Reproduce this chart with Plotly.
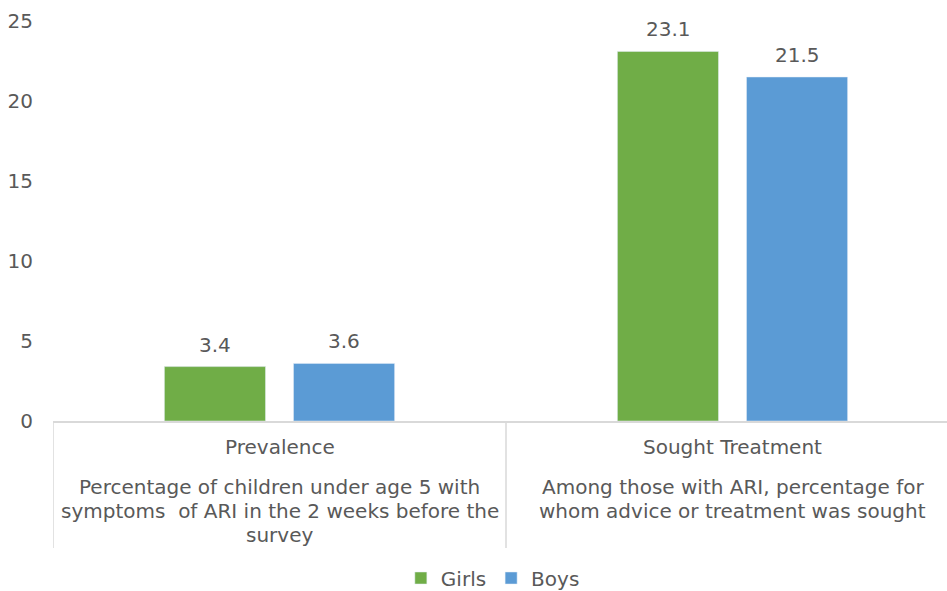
import plotly.graph_objects as go

categories = ["Prevalence", "Sought Treatment"]
descriptions = [
    ["Percentage of children under age 5 with",
     "symptoms  of ARI in the 2 weeks before the",
     "survey"],
    ["Among those with ARI, percentage for",
     "whom advice or treatment was sought"],
]
series_names = ["Girls", "Boys"]
girls = [3.4, 23.1]
boys = [3.6, 21.5]
y_ticks = [0, 5, 10, 15, 20, 25]

FONT = "DejaVu Sans"
FS = 20
TXT = "#595959"
GREEN = "#70AD47"
BLUE = "#5B9BD5"
GRID = "#D9D9D9"

xs = list(range(len(categories)))
PLOT_H = 400
CAT_W = 453
PLOT_W = 947 - 53

fig = go.Figure()
for name, vals, col in [(series_names[0], girls, GREEN), (series_names[1], boys, BLUE)]:
    fig.add_trace(go.Bar(name=name, x=xs, y=vals, marker_color=col, hoverinfo="skip"))

# value labels above bars
for vals, shift in [(girls, -64.5), (boys, 64.5)]:
    for i, v in zip(xs, vals):
        fig.add_annotation(x=i, y=v, xref="x", yref="y", xshift=shift, yshift=22,
                           yanchor="middle", text=f"{v:.1f}", showarrow=False,
                           font=dict(size=FS, color=TXT, family=FONT))

fig.update_layout(
    width=947, height=591,
    margin=dict(l=53, r=0, t=21, b=170, autoexpand=False),
    paper_bgcolor="white", plot_bgcolor="white",
    font=dict(family=FONT, size=FS, color=TXT),
    barmode="group", bargap=0.43, bargroupgap=0.217,
    showlegend=True,
    legend=dict(orientation="h", x=0.492, xref="paper", xanchor="center",
                y=-157 / PLOT_H, yanchor="middle", font=dict(size=FS, color=TXT, family=FONT),
                traceorder="normal"),
)
fig.update_xaxes(range=[-0.5, -0.5 + PLOT_W / CAT_W], showticklabels=False,
                 showline=True, linecolor=GRID, linewidth=1.5, showgrid=False,
                 zeroline=False, tickvals=xs, automargin=False)
fig.update_yaxes(range=[0, 25], tickvals=y_ticks, showgrid=False, zeroline=False,
                 showline=False, ticks="outside", ticklen=15, automargin=False,
                 tickcolor="rgba(0,0,0,0)", tickfont=dict(size=FS, color=TXT, family=FONT))

# category separators
for b in [-0.5 + i for i in range(len(categories) + 1)]:
    fig.add_shape(type="line", xref="x", yref="paper", x0=b, x1=b, y0=0, y1=-127 / PLOT_H,
                  line=dict(color=GRID, width=1.5))

for i, (c, lines) in enumerate(zip(categories, descriptions)):
    fig.add_annotation(x=i, xref="x", yref="paper", y=-26 / PLOT_H, yanchor="middle",
                       text=c, showarrow=False, font=dict(size=FS, color=TXT, family=FONT))
    for k, line in enumerate(lines):
        fig.add_annotation(x=i, xref="x", yref="paper", y=-(66 + 24 * k) / PLOT_H,
                           yanchor="middle", text=line, showarrow=False,
                           font=dict(size=FS, color=TXT, family=FONT))

fig.write_html("out.html", config={"displayModeBar": False},
               post_script="document.body.style.margin='0';document.body.style.overflow='hidden';")
